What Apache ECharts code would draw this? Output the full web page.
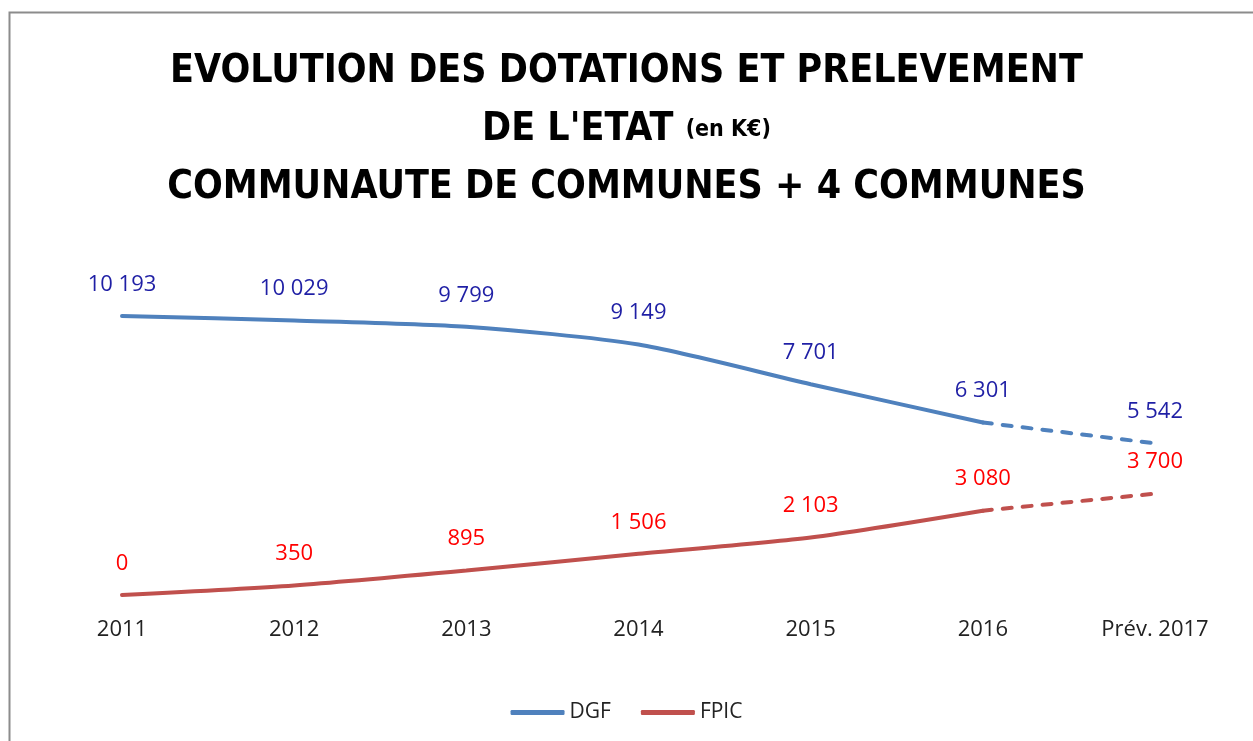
<!DOCTYPE html>
<html>
<head>
<meta charset="utf-8">
<title>Evolution des dotations</title>
<script src="https://cdn.jsdelivr.net/npm/echarts@6/dist/echarts.min.js"></script>
<style>
  html, body { margin: 0; padding: 0; background: #fff; }
  #chart { width: 1253px; height: 741px; }
</style>
</head>
<body>
<div id="chart"></div>
<script>
// donnees
var annees = ['2011', '2012', '2013', '2014', '2015', '2016', 'Prév. 2017'];
var dgf = [10193, 10029, 9799, 9149, 7701, 6301, 5542];
var fpic = [0, 350, 895, 1506, 2103, 3080, 3700];

var bleu = '#4F81BD';
var rouge = '#C0504D';

// partie realisee (trait plein) / prevision (pointilles)
function realise(arr) {
	return arr.map(function(v, i) { return i < arr.length - 1 ? v : '-'; });
}
function prevision(arr) {
	return arr.map(function(v, i) { return i >= arr.length - 2 ? v : '-'; });
}
function fmt(v) {
	return String(v).replace(/\B(?=(\d{3})+(?!\d))/g, ' ');
}

var myChart = echarts.init(document.getElementById('chart'));

var labelBase = {
	show: true,
	position: 'top',
	distance: 20,
	fontFamily: 'Open Sans',
	fontSize: 22,
	formatter: function(p) { return fmt(p.value); }
};

// symbole transparent pour garder les etiquettes
var sansSymbole = {
	symbol: 'circle',
	symbolSize: 1,
	showSymbol: true,
	itemStyle: { color: 'transparent', borderWidth: 0 }
};

var option = {
	animation: false,
	backgroundColor: '#fff',
	graphic: [{
		type: 'rect',
		shape: { x: 9.5, y: 12.5, width: 1400, height: 900 },
		style: { fill: 'none', stroke: '#8C8C8C', lineWidth: 2 },
		silent: true
	}],
	title: {
		text: 'EVOLUTION DES DOTATIONS ET PRELEVEMENT\nDE L\'ETAT {s|(en K€)}\nCOMMUNAUTE DE COMMUNES + 4 COMMUNES',
		left: 'center',
		top: 38,
		textStyle: {
			fontFamily: 'DejaVu Sans Condensed',
			fontWeight: 'bold',
			fontSize: 39,
			lineHeight: 58,
			color: '#000',
			rich: {
				s: {
					fontFamily: 'DejaVu Sans Condensed',
					fontWeight: 'bold',
					fontSize: 23,
					color: '#000'
				}
			}
		}
	},
	legend: {
		bottom: 13,
		left: 'center',
		itemWidth: 54,
		itemHeight: 5,
		itemGap: 30,
		data: [
			{ name: 'DGF', icon: 'roundRect', itemStyle: { color: bleu } },
			{ name: 'FPIC', icon: 'roundRect', itemStyle: { color: rouge } }
		],
		textStyle: { fontFamily: 'Open Sans', fontSize: 21, color: '#222' }
	},
	grid: {
		left: 122,
		right: 98,
		top: 266.5,
		bottom: 146
	},
	xAxis: {
		type: 'category',
		boundaryGap: false,
		data: annees,
		axisLine: { show: false },
		axisTick: { show: false },
		axisLabel: {
			margin: 24,
			fontFamily: 'Open Sans',
			fontSize: 22,
			color: '#222'
		}
	},
	yAxis: {
		type: 'value',
		min: 0,
		max: 12000,
		show: false,
		splitLine: { show: false }
	},
	series: [Object.assign({
		name: 'DGF',
		type: 'line',
		data: realise(dgf),
		smooth: 0.25,
		color: bleu,
		lineStyle: { width: 4, color: bleu, cap: 'round' },
		label: Object.assign({}, labelBase, { color: '#1F1FA5' })
	}, sansSymbole), Object.assign({
		name: 'DGF prev',
		type: 'line',
		data: prevision(dgf),
		color: bleu,
		lineStyle: { width: 4, color: bleu, type: [9, 11], cap: 'round' },
		label: Object.assign({}, labelBase, {
			color: '#1F1FA5',
			formatter: function(p) { return p.dataIndex === dgf.length - 1 ? fmt(p.value) : ''; }
		})
	}, sansSymbole), Object.assign({
		name: 'FPIC',
		type: 'line',
		data: realise(fpic),
		smooth: 0.25,
		color: rouge,
		lineStyle: { width: 4, color: rouge, cap: 'round' },
		label: Object.assign({}, labelBase, { color: '#FF0000' })
	}, sansSymbole), Object.assign({
		name: 'FPIC prev',
		type: 'line',
		data: prevision(fpic),
		color: rouge,
		lineStyle: { width: 4, color: rouge, type: [9, 11], cap: 'round' },
		label: Object.assign({}, labelBase, {
			color: '#FF0000',
			formatter: function(p) { return p.dataIndex === fpic.length - 1 ? fmt(p.value) : ''; }
		})
	}, sansSymbole)]
};

myChart.setOption(option);
</script>
</body>
</html>
